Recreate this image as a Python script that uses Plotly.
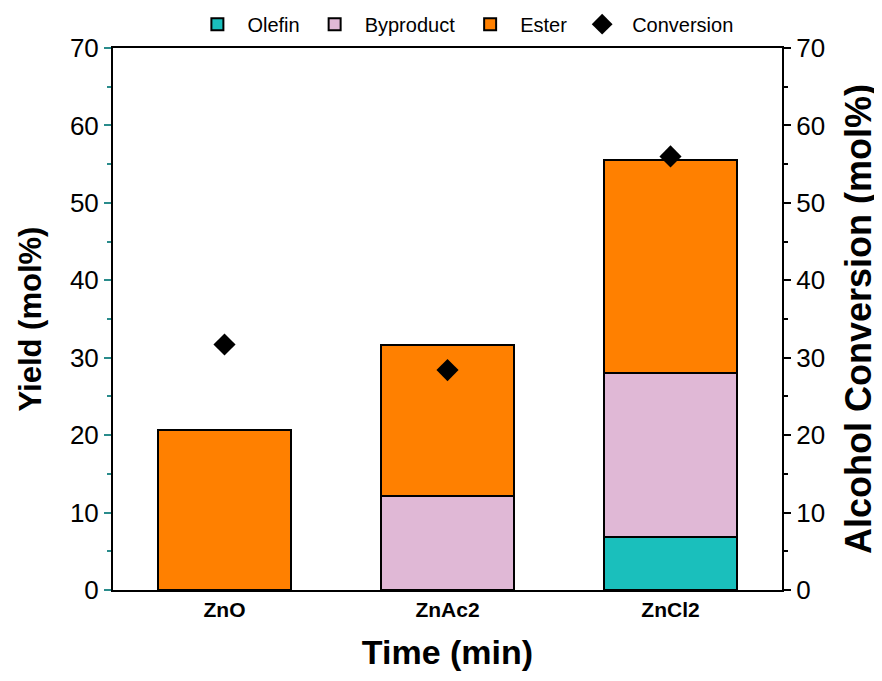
import plotly.graph_objects as go

categories = ["ZnO", "ZnAc2", "ZnCl2"]
olefin = [None, None, 6.9]
byproduct = [None, 12.1, 21.1]
ester = [20.7, 19.6, 27.5]
conversion = [31.7, 28.4, 56.0]

FONT = "Liberation Sans, Arial, sans-serif"

fig = go.Figure()
line = dict(color="black", width=2)
fig.add_bar(x=categories, y=olefin, name="Olefin", marker=dict(color="#1abfbc", line=line), width=0.6)
fig.add_bar(x=categories, y=byproduct, name="Byproduct", marker=dict(color="#e0b8d6", line=line), width=0.6)
fig.add_bar(x=categories, y=ester, name="Ester", marker=dict(color="#ff8000", line=line), width=0.6)
fig.add_scatter(x=categories, y=conversion, name="Conversion", mode="markers", yaxis="y2",
                marker=dict(symbol="diamond", size=17, color="black"))

fig.update_layout(
    barmode="stack",
    width=874, height=673,
    margin=dict(l=105, r=100, t=40, b=91, autoexpand=False),
    paper_bgcolor="white", plot_bgcolor="white",
    font=dict(family=FONT, color="black"),
    legend=dict(orientation="h", x=0.523, xanchor="center", y=1.044, yanchor="middle",
                font=dict(size=20), traceorder="normal", itemwidth=50,
                bgcolor="rgba(0,0,0,0)"),
    xaxis=dict(range=[-0.5, 2.5], showline=True, linecolor="black", linewidth=2, mirror=True,
               ticks="", tickfont=dict(size=21, family=FONT, weight="bold"),
               title=dict(text="<b>Time (min)</b>", font=dict(size=34), standoff=20)),
    yaxis=dict(range=[0, 70], dtick=10, showline=True, linecolor="black", linewidth=2,
               ticks="outside", ticklen=7, tickwidth=1.5, tickcolor="#2a8c8c",
               minor=dict(ticks="outside", ticklen=4, dtick=5, tickcolor="#2a8c8c", tickwidth=1.5),
               showgrid=False, zeroline=False, tickfont=dict(size=26),
               title=dict(text="<b>Yield (mol%)</b>", font=dict(size=31), standoff=19)),
    yaxis2=dict(range=[0, 70], dtick=10, overlaying="y", side="right", showline=True,
                linecolor="black", linewidth=2, ticks="outside", ticklen=7, tickwidth=2,
                tickcolor="black",
                minor=dict(ticks="outside", ticklen=4, dtick=5, tickcolor="black", tickwidth=2),
                showgrid=False, zeroline=False, tickfont=dict(size=26),
                title=dict(text="<b>Alcohol Conversion (mol%)</b>", font=dict(size=36), standoff=22)),
)

fig.write_html("out.html")
